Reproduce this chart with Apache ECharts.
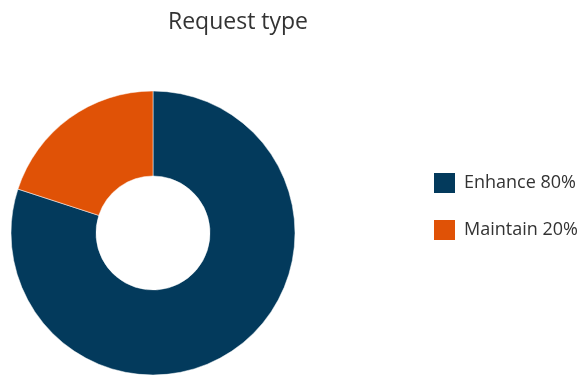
<!DOCTYPE html>
<html>
<head>
<meta charset="utf-8">
<script src="https://cdn.jsdelivr.net/npm/echarts@6/dist/echarts.min.js"></script>
<style>
  html, body { margin: 0; padding: 0; background: #fff; }
  #chart { width: 584px; height: 375px; }
</style>
</head>
<body>
<div id="chart"></div>
<script>
// Request type breakdown (percent of requests)
const categories = ['Enhance', 'Maintain'];
const shares = [80, 20];
const sliceColors = ['#033A5C', '#E05206'];

const chart = echarts.init(document.getElementById('chart'), null, { renderer: 'canvas' });

const data = categories.map((name, i) => ({
  name: name,
  value: shares[i],
  itemStyle: { color: sliceColors[i] }
}));

chart.setOption({
  animation: false,
  backgroundColor: '#ffffff',
  title: {
    text: 'Request type',
    left: 233,
    textAlign: 'center',
    top: 6,
    textStyle: {
      fontFamily: 'Open Sans',
      fontSize: 23,
      fontWeight: 'normal',
      color: '#333333'
    }
  },
  legend: {
    orient: 'vertical',
    left: 427,
    top: 166,
    itemWidth: 23,
    itemHeight: 22,
    itemGap: 23,
    icon: 'rect',
    formatter: name => name + ' ' + shares[categories.indexOf(name)] + '%',
    textStyle: {
      fontFamily: 'Open Sans',
      fontSize: 18,
      color: '#333333',
      padding: [0, 0, 0, 3]
    }
  },
  series: [{
    type: 'pie',
    center: [153, 233],
    radius: [57, 142],
    startAngle: 90,
    clockwise: true,
    label: { show: false },
    labelLine: { show: false },
    emphasis: { disabled: true },
    itemStyle: { borderColor: '#ffffff', borderWidth: 0.5 },
    data: data
  }]
});
</script>
</body>
</html>
